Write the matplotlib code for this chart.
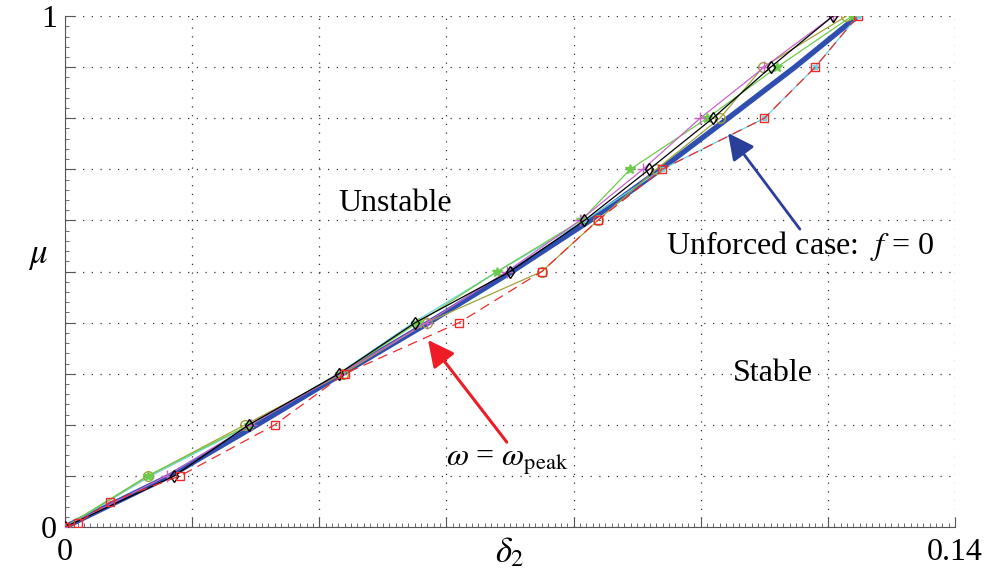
import numpy as np
import matplotlib.pyplot as plt
from matplotlib.ticker import MultipleLocator

plt.rcParams['font.family'] = ['Liberation Serif', 'DejaVu Serif']
plt.rcParams['mathtext.fontset'] = 'stix'

# mu levels where each curve was sampled
mu = [0, 0.1, 0.2, 0.3, 0.4, 0.5, 0.6, 0.7, 0.8, 0.9, 1.0]

# unforced case f = 0 (thick blue)
delta_unforced = [0, 0.0165, 0.0302, 0.0436, 0.0572, 0.0703, 0.0826, 0.0937, 0.1043, 0.1148, 0.1247]

# forced cases
delta_black = [0, 0.0172, 0.0289, 0.0431, 0.0551, 0.0700, 0.0817, 0.0919, 0.1019, 0.1110, 0.1208]
delta_olive = [0, 0.0131, 0.0283, 0.0437, 0.0569, 0.0750, 0.0838, 0.0930, 0.1030, 0.1098, 0.1229]
delta_green = [0, 0.0130, 0.0290, 0.0432, 0.0555, 0.0680, 0.0812, 0.0889, 0.1010, 0.1120, 0.1238]
delta_magenta = [0, 0.0160, 0.0292, 0.0433, 0.0569, 0.0695, 0.0810, 0.0909, 0.0999, 0.1100, 0.1208]
delta_cyan = [0, 0.0135, 0.0292, 0.0430, 0.0548, 0.0680, 0.0818, 0.0939, 0.1100, 0.1180, 0.1247]

# omega = omega_peak (red dashed, squares)
mu_peak = [0, 0.008, 0.049, 0.1, 0.2, 0.3, 0.4, 0.5, 0.6, 0.7, 0.8, 0.9, 1.0]
delta_peak = [0, 0.0020, 0.0071, 0.0181, 0.0330, 0.0440, 0.0620, 0.0750, 0.0838, 0.0939, 0.1100, 0.1180, 0.1247]

fig = plt.figure(figsize=(9.88, 5.75), dpi=100)
ax = fig.add_axes([0.0658, 0.0835, 0.9008, 0.8885])

ax.plot(delta_unforced, mu, color='#2f4fb0', lw=3.9, zorder=2)
ax.plot(delta_cyan, mu, color='#6fd3e3', lw=0.9, marker='s', ms=3.5, zorder=3)
ax.plot(delta_olive, mu, color='#a3a23a', lw=0.9, marker='o', ms=7, mfc='none', zorder=3)
ax.plot(delta_green, mu, color='#6ccc4a', lw=0.9, marker='*', ms=7, zorder=3)
ax.plot(delta_magenta, mu, color='#c864c8', lw=0.9, marker='+', ms=8, zorder=3)
ax.plot(delta_black, mu, color='black', lw=0.9, marker='d', ms=6, mfc='none', zorder=4)
ax.plot(delta_peak, mu_peak, color='#ee2a2a', lw=0.9, dashes=(8, 5), marker='s', ms=6,
        mfc='none', zorder=4)

ax.set_xlim(0, 0.14)
ax.set_ylim(0, 1)

ax.spines['top'].set_visible(False)
ax.spines['right'].set_visible(False)
ax.spines['left'].set_color('#555555')
ax.spines['bottom'].set_color('#555555')

ax.xaxis.set_minor_locator(MultipleLocator(0.001))
ax.yaxis.set_minor_locator(MultipleLocator(0.02))
ax.tick_params(which='both', direction='in', color='#555555')
ax.tick_params(which='major', length=7, width=0.8)
ax.tick_params(which='minor', length=3, width=0.6)

xt = np.round(np.arange(0, 0.1401, 0.02), 2)
ax.set_xticks(xt)
ax.set_xticklabels(['0'] + [''] * 6 + ['0.14'], fontsize=23)
yt = np.round(np.arange(0, 1.001, 0.1), 1)
ax.set_yticks(yt)
ax.set_yticklabels(['0'] + [''] * 9 + ['1'], fontsize=23)
ax.tick_params(axis='x', pad=8)
ax.tick_params(axis='y', pad=6)

ax.grid(True, which='major', color='#333333', ls=(0, (1, 6)), lw=0.9)
ax.set_axisbelow(True)

ax.set_xlabel(r'$\delta_2$', fontsize=25, labelpad=-22)
ax.set_ylabel(r'$\mu$', fontsize=25, rotation=0, labelpad=18)
ax.yaxis.set_label_coords(-0.03, 0.5)

ax.text(0.0519, 0.634, 'Unstable', fontsize=23, ha='center', va='center')
ax.text(0.1114, 0.301, 'Stable', fontsize=23, ha='center', va='center')
ax.text(0.1156, 0.55, r'Unforced case:  $f$ = 0', fontsize=23, ha='center', va='center')
ax.text(0.0695, 0.127, r'$\omega$ = $\omega_{\mathrm{peak}}$', fontsize=23, ha='center', va='center')

ax.annotate('', xy=(0.0571, 0.366), xytext=(0.0695, 0.166),
            arrowprops=dict(arrowstyle='-|>', color='#ee1c24', lw=2.2, mutation_scale=40,
                            shrinkA=0, shrinkB=0))
ax.annotate('', xy=(0.1043, 0.771), xytext=(0.1156, 0.583),
            arrowprops=dict(arrowstyle='-|>', color='#2a3f9a', lw=2.0, mutation_scale=40,
                            shrinkA=0, shrinkB=0))

fig.savefig('out.png', dpi=100)
